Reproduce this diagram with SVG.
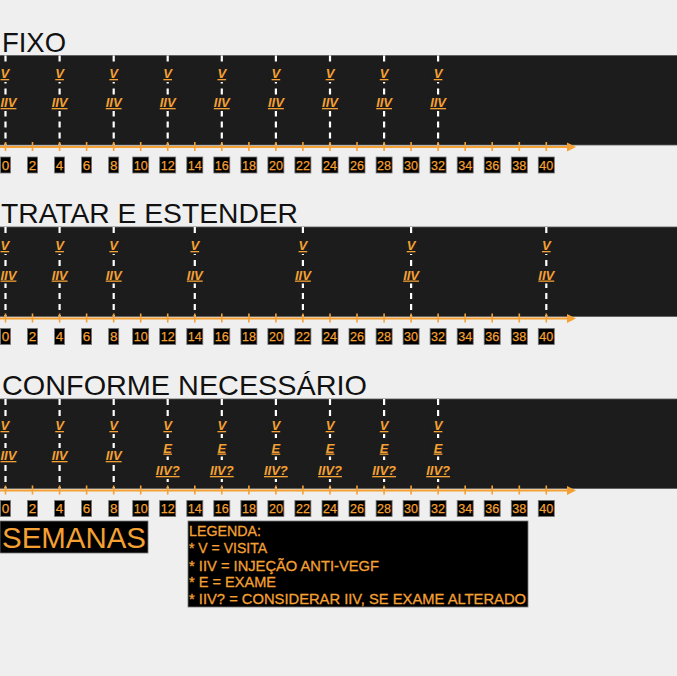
<svg xmlns="http://www.w3.org/2000/svg" width="677" height="676" viewBox="0 0 677 676">
<defs>
<style>
.bg{fill:#efefef}
.band{fill:#1c1c1c;stroke:#5a5a5a;stroke-width:0.8}
.title{font-family:"Liberation Sans",Arial,sans-serif;font-size:28px;fill:#111}
.axis{stroke:#f4a033;stroke-width:2;fill:none}
.tick{stroke:#f4a033;stroke-width:1.6}
.arrow{fill:#f4a033}
.dash{stroke:#ffffff;stroke-width:2.2;stroke-dasharray:6 5;fill:none}
.lblbg{fill:#1c1c1c}
.lbl{font-family:"Liberation Sans",Arial,sans-serif;font-size:13px;font-weight:bold;font-style:italic;fill:#f4a033;text-anchor:middle;text-decoration:underline}
.l0{text-anchor:start}
.nbox{fill:#000;stroke:#777;stroke-width:0.8}
.num{font-family:"Liberation Sans",Arial,sans-serif;font-size:13.5px;fill:#f4a033;stroke:#f4a033;stroke-width:0.25;text-anchor:middle}
.leg{font-family:"Liberation Sans",Arial,sans-serif;font-size:15px;fill:#f4a033;stroke:#f4a033;stroke-width:0.3}
</style>
</defs>
<rect class="bg" x="0" y="0" width="677" height="676"/>

<g id="panel-fixo">
<text class="title" x="2" y="51.5" textLength="64" lengthAdjust="spacingAndGlyphs">FIXO</text>
<rect class="band" x="-1" y="55.5" width="679" height="89.5"/>
</g>
<g id="panel-tratar">
<text class="title" x="1" y="223" textLength="297" lengthAdjust="spacingAndGlyphs">TRATAR E ESTENDER</text>
<rect class="band" x="-1" y="227" width="679" height="89.5"/>
</g>
<g id="panel-conforme">
<text class="title" x="2" y="395" textLength="365" lengthAdjust="spacingAndGlyphs">CONFORME NECESSÁRIO</text>
<rect class="band" x="-1" y="399" width="679" height="89.5"/>
</g>

<g id="connectors">
<line class="axis" x1="0" y1="147" x2="569" y2="147"/>
<polygon class="arrow" points="567,142.5 576,147 567,151.5"/>
<line class="axis" x1="0" y1="318.5" x2="569" y2="318.5"/>
<polygon class="arrow" points="567,314 576,318.5 567,323"/>
<line class="axis" x1="0" y1="490.5" x2="569" y2="490.5"/>
<polygon class="arrow" points="567,486 576,490.5 567,495"/>
<line class="dash" x1="5.5" y1="55.5" x2="5.5" y2="145"/>
<line class="dash" x1="59.6" y1="55.5" x2="59.6" y2="145"/>
<line class="dash" x1="113.7" y1="55.5" x2="113.7" y2="145"/>
<line class="dash" x1="167.7" y1="55.5" x2="167.7" y2="145"/>
<line class="dash" x1="221.8" y1="55.5" x2="221.8" y2="145"/>
<line class="dash" x1="275.9" y1="55.5" x2="275.9" y2="145"/>
<line class="dash" x1="330" y1="55.5" x2="330" y2="145"/>
<line class="dash" x1="384.1" y1="55.5" x2="384.1" y2="145"/>
<line class="dash" x1="438.1" y1="55.5" x2="438.1" y2="145"/>
<line class="dash" x1="5.5" y1="227" x2="5.5" y2="316.5"/>
<line class="dash" x1="59.6" y1="227" x2="59.6" y2="316.5"/>
<line class="dash" x1="113.7" y1="227" x2="113.7" y2="316.5"/>
<line class="dash" x1="194.8" y1="227" x2="194.8" y2="316.5"/>
<line class="dash" x1="302.9" y1="227" x2="302.9" y2="316.5"/>
<line class="dash" x1="411.1" y1="227" x2="411.1" y2="316.5"/>
<line class="dash" x1="546.3" y1="227" x2="546.3" y2="316.5"/>
<line class="dash" x1="5.5" y1="399" x2="5.5" y2="488.5"/>
<line class="dash" x1="59.6" y1="399" x2="59.6" y2="488.5"/>
<line class="dash" x1="113.7" y1="399" x2="113.7" y2="488.5"/>
<line class="dash" x1="167.7" y1="399" x2="167.7" y2="488.5"/>
<line class="dash" x1="221.8" y1="399" x2="221.8" y2="488.5"/>
<line class="dash" x1="275.9" y1="399" x2="275.9" y2="488.5"/>
<line class="dash" x1="330" y1="399" x2="330" y2="488.5"/>
<line class="dash" x1="384.1" y1="399" x2="384.1" y2="488.5"/>
<line class="dash" x1="438.1" y1="399" x2="438.1" y2="488.5"/>
</g>

<g id="ticks" class="tick">
<path d="M5.5 142v9M32.5 142v9M59.6 142v9M86.6 142v9M113.7 142v9M140.7 142v9M167.7 142v9M194.8 142v9M221.8 142v9M248.9 142v9M275.9 142v9M302.9 142v9M330 142v9M357 142v9M384.1 142v9M411.1 142v9M438.1 142v9M465.2 142v9M492.2 142v9M519.3 142v9M546.3 142v9"/>
<path d="M5.5 313.5v9M32.5 313.5v9M59.6 313.5v9M86.6 313.5v9M113.7 313.5v9M140.7 313.5v9M167.7 313.5v9M194.8 313.5v9M221.8 313.5v9M248.9 313.5v9M275.9 313.5v9M302.9 313.5v9M330 313.5v9M357 313.5v9M384.1 313.5v9M411.1 313.5v9M438.1 313.5v9M465.2 313.5v9M492.2 313.5v9M519.3 313.5v9M546.3 313.5v9"/>
<path d="M5.5 485.5v9M32.5 485.5v9M59.6 485.5v9M86.6 485.5v9M113.7 485.5v9M140.7 485.5v9M167.7 485.5v9M194.8 485.5v9M221.8 485.5v9M248.9 485.5v9M275.9 485.5v9M302.9 485.5v9M330 485.5v9M357 485.5v9M384.1 485.5v9M411.1 485.5v9M438.1 485.5v9M465.2 485.5v9M492.2 485.5v9M519.3 485.5v9M546.3 485.5v9"/>
</g>

<g id="p1-visits">
<g id="p1-w0"><rect class="lblbg" x="0" y="66" width="12" height="16"/><rect class="lblbg" x="0" y="95" width="18" height="16"/><text class="lbl l0" x="0.5" y="78">V</text><text class="lbl l0" x="0.5" y="107">IIV</text></g>
<g id="p1-w4"><rect class="lblbg" x="53.1" y="66" width="13" height="16"/><rect class="lblbg" x="48.6" y="95" width="22" height="16"/><text class="lbl" x="59.6" y="78">V</text><text class="lbl" x="59.6" y="107">IIV</text></g>
<g id="p1-w8"><rect class="lblbg" x="107.2" y="66" width="13" height="16"/><rect class="lblbg" x="102.7" y="95" width="22" height="16"/><text class="lbl" x="113.7" y="78">V</text><text class="lbl" x="113.7" y="107">IIV</text></g>
<g id="p1-w12"><rect class="lblbg" x="161.2" y="66" width="13" height="16"/><rect class="lblbg" x="156.7" y="95" width="22" height="16"/><text class="lbl" x="167.7" y="78">V</text><text class="lbl" x="167.7" y="107">IIV</text></g>
<g id="p1-w16"><rect class="lblbg" x="215.3" y="66" width="13" height="16"/><rect class="lblbg" x="210.8" y="95" width="22" height="16"/><text class="lbl" x="221.8" y="78">V</text><text class="lbl" x="221.8" y="107">IIV</text></g>
<g id="p1-w20"><rect class="lblbg" x="269.4" y="66" width="13" height="16"/><rect class="lblbg" x="264.9" y="95" width="22" height="16"/><text class="lbl" x="275.9" y="78">V</text><text class="lbl" x="275.9" y="107">IIV</text></g>
<g id="p1-w24"><rect class="lblbg" x="323.5" y="66" width="13" height="16"/><rect class="lblbg" x="319" y="95" width="22" height="16"/><text class="lbl" x="330" y="78">V</text><text class="lbl" x="330" y="107">IIV</text></g>
<g id="p1-w28"><rect class="lblbg" x="377.6" y="66" width="13" height="16"/><rect class="lblbg" x="373.1" y="95" width="22" height="16"/><text class="lbl" x="384.1" y="78">V</text><text class="lbl" x="384.1" y="107">IIV</text></g>
<g id="p1-w32"><rect class="lblbg" x="431.6" y="66" width="13" height="16"/><rect class="lblbg" x="427.1" y="95" width="22" height="16"/><text class="lbl" x="438.1" y="78">V</text><text class="lbl" x="438.1" y="107">IIV</text></g>
</g>

<g id="p2-visits">
<g id="p2-w0"><rect class="lblbg" x="0" y="238" width="12" height="16"/><rect class="lblbg" x="0" y="267.5" width="18" height="16"/><text class="lbl l0" x="0.5" y="250">V</text><text class="lbl l0" x="0.5" y="279.5">IIV</text></g>
<g id="p2-w4"><rect class="lblbg" x="53.1" y="238" width="13" height="16"/><rect class="lblbg" x="48.6" y="267.5" width="22" height="16"/><text class="lbl" x="59.6" y="250">V</text><text class="lbl" x="59.6" y="279.5">IIV</text></g>
<g id="p2-w8"><rect class="lblbg" x="107.2" y="238" width="13" height="16"/><rect class="lblbg" x="102.7" y="267.5" width="22" height="16"/><text class="lbl" x="113.7" y="250">V</text><text class="lbl" x="113.7" y="279.5">IIV</text></g>
<g id="p2-w14"><rect class="lblbg" x="188.3" y="238" width="13" height="16"/><rect class="lblbg" x="183.8" y="267.5" width="22" height="16"/><text class="lbl" x="194.8" y="250">V</text><text class="lbl" x="194.8" y="279.5">IIV</text></g>
<g id="p2-w22"><rect class="lblbg" x="296.4" y="238" width="13" height="16"/><rect class="lblbg" x="291.9" y="267.5" width="22" height="16"/><text class="lbl" x="302.9" y="250">V</text><text class="lbl" x="302.9" y="279.5">IIV</text></g>
<g id="p2-w30"><rect class="lblbg" x="404.6" y="238" width="13" height="16"/><rect class="lblbg" x="400.1" y="267.5" width="22" height="16"/><text class="lbl" x="411.1" y="250">V</text><text class="lbl" x="411.1" y="279.5">IIV</text></g>
<g id="p2-w40"><rect class="lblbg" x="539.8" y="238" width="13" height="16"/><rect class="lblbg" x="535.3" y="267.5" width="22" height="16"/><text class="lbl" x="546.3" y="250">V</text><text class="lbl" x="546.3" y="279.5">IIV</text></g>
</g>

<g id="p3-visits">
<g id="p3-w0"><rect class="lblbg" x="0" y="418" width="12" height="16"/><rect class="lblbg" x="0" y="448" width="18" height="16"/><text class="lbl l0" x="0.5" y="430">V</text><text class="lbl l0" x="0.5" y="460">IIV</text></g>
<g id="p3-w4"><rect class="lblbg" x="53.1" y="418" width="13" height="16"/><rect class="lblbg" x="48.6" y="448" width="22" height="16"/><text class="lbl" x="59.6" y="430">V</text><text class="lbl" x="59.6" y="460">IIV</text></g>
<g id="p3-w8"><rect class="lblbg" x="107.2" y="418" width="13" height="16"/><rect class="lblbg" x="102.7" y="448" width="22" height="16"/><text class="lbl" x="113.7" y="430">V</text><text class="lbl" x="113.7" y="460">IIV</text></g>
<g id="p3-w12"><rect class="lblbg" x="161.2" y="418" width="13" height="16"/><rect class="lblbg" x="161.2" y="440.5" width="13" height="16"/><rect class="lblbg" x="152.7" y="463" width="30" height="16"/><text class="lbl" x="167.7" y="430">V</text><text class="lbl" x="167.7" y="452.5">E</text><text class="lbl" x="167.7" y="475">IIV?</text></g>
<g id="p3-w16"><rect class="lblbg" x="215.3" y="418" width="13" height="16"/><rect class="lblbg" x="215.3" y="440.5" width="13" height="16"/><rect class="lblbg" x="206.8" y="463" width="30" height="16"/><text class="lbl" x="221.8" y="430">V</text><text class="lbl" x="221.8" y="452.5">E</text><text class="lbl" x="221.8" y="475">IIV?</text></g>
<g id="p3-w20"><rect class="lblbg" x="269.4" y="418" width="13" height="16"/><rect class="lblbg" x="269.4" y="440.5" width="13" height="16"/><rect class="lblbg" x="260.9" y="463" width="30" height="16"/><text class="lbl" x="275.9" y="430">V</text><text class="lbl" x="275.9" y="452.5">E</text><text class="lbl" x="275.9" y="475">IIV?</text></g>
<g id="p3-w24"><rect class="lblbg" x="323.5" y="418" width="13" height="16"/><rect class="lblbg" x="323.5" y="440.5" width="13" height="16"/><rect class="lblbg" x="315" y="463" width="30" height="16"/><text class="lbl" x="330" y="430">V</text><text class="lbl" x="330" y="452.5">E</text><text class="lbl" x="330" y="475">IIV?</text></g>
<g id="p3-w28"><rect class="lblbg" x="377.6" y="418" width="13" height="16"/><rect class="lblbg" x="377.6" y="440.5" width="13" height="16"/><rect class="lblbg" x="369.1" y="463" width="30" height="16"/><text class="lbl" x="384.1" y="430">V</text><text class="lbl" x="384.1" y="452.5">E</text><text class="lbl" x="384.1" y="475">IIV?</text></g>
<g id="p3-w32"><rect class="lblbg" x="431.6" y="418" width="13" height="16"/><rect class="lblbg" x="431.6" y="440.5" width="13" height="16"/><rect class="lblbg" x="423.1" y="463" width="30" height="16"/><text class="lbl" x="438.1" y="430">V</text><text class="lbl" x="438.1" y="452.5">E</text><text class="lbl" x="438.1" y="475">IIV?</text></g>
</g>

<g id="p1-weeks">
<rect class="nbox" x="0.5" y="157" width="10" height="16"/><text class="num" x="5.5" y="169.5">0</text>
<rect class="nbox" x="27.5" y="157" width="10" height="16"/><text class="num" x="32.5" y="169.5">2</text>
<rect class="nbox" x="54.6" y="157" width="10" height="16"/><text class="num" x="59.6" y="169.5">4</text>
<rect class="nbox" x="81.6" y="157" width="10" height="16"/><text class="num" x="86.6" y="169.5">6</text>
<rect class="nbox" x="108.7" y="157" width="10" height="16"/><text class="num" x="113.7" y="169.5">8</text>
<rect class="nbox" x="132.7" y="157" width="16" height="16"/><text class="num" x="140.7" y="169.5" textLength="14" lengthAdjust="spacingAndGlyphs">10</text>
<rect class="nbox" x="159.7" y="157" width="16" height="16"/><text class="num" x="167.7" y="169.5" textLength="14" lengthAdjust="spacingAndGlyphs">12</text>
<rect class="nbox" x="186.8" y="157" width="16" height="16"/><text class="num" x="194.8" y="169.5" textLength="14" lengthAdjust="spacingAndGlyphs">14</text>
<rect class="nbox" x="213.8" y="157" width="16" height="16"/><text class="num" x="221.8" y="169.5" textLength="14" lengthAdjust="spacingAndGlyphs">16</text>
<rect class="nbox" x="240.9" y="157" width="16" height="16"/><text class="num" x="248.9" y="169.5" textLength="14" lengthAdjust="spacingAndGlyphs">18</text>
<rect class="nbox" x="267.9" y="157" width="16" height="16"/><text class="num" x="275.9" y="169.5" textLength="14" lengthAdjust="spacingAndGlyphs">20</text>
<rect class="nbox" x="294.9" y="157" width="16" height="16"/><text class="num" x="302.9" y="169.5" textLength="14" lengthAdjust="spacingAndGlyphs">22</text>
<rect class="nbox" x="322" y="157" width="16" height="16"/><text class="num" x="330" y="169.5" textLength="14" lengthAdjust="spacingAndGlyphs">24</text>
<rect class="nbox" x="349" y="157" width="16" height="16"/><text class="num" x="357" y="169.5" textLength="14" lengthAdjust="spacingAndGlyphs">26</text>
<rect class="nbox" x="376.1" y="157" width="16" height="16"/><text class="num" x="384.1" y="169.5" textLength="14" lengthAdjust="spacingAndGlyphs">28</text>
<rect class="nbox" x="403.1" y="157" width="16" height="16"/><text class="num" x="411.1" y="169.5" textLength="14" lengthAdjust="spacingAndGlyphs">30</text>
<rect class="nbox" x="430.1" y="157" width="16" height="16"/><text class="num" x="438.1" y="169.5" textLength="14" lengthAdjust="spacingAndGlyphs">32</text>
<rect class="nbox" x="457.2" y="157" width="16" height="16"/><text class="num" x="465.2" y="169.5" textLength="14" lengthAdjust="spacingAndGlyphs">34</text>
<rect class="nbox" x="484.2" y="157" width="16" height="16"/><text class="num" x="492.2" y="169.5" textLength="14" lengthAdjust="spacingAndGlyphs">36</text>
<rect class="nbox" x="511.3" y="157" width="16" height="16"/><text class="num" x="519.3" y="169.5" textLength="14" lengthAdjust="spacingAndGlyphs">38</text>
<rect class="nbox" x="538.3" y="157" width="16" height="16"/><text class="num" x="546.3" y="169.5" textLength="14" lengthAdjust="spacingAndGlyphs">40</text>
</g>
<g id="p2-weeks">
<rect class="nbox" x="0.5" y="328.5" width="10" height="16"/><text class="num" x="5.5" y="341">0</text>
<rect class="nbox" x="27.5" y="328.5" width="10" height="16"/><text class="num" x="32.5" y="341">2</text>
<rect class="nbox" x="54.6" y="328.5" width="10" height="16"/><text class="num" x="59.6" y="341">4</text>
<rect class="nbox" x="81.6" y="328.5" width="10" height="16"/><text class="num" x="86.6" y="341">6</text>
<rect class="nbox" x="108.7" y="328.5" width="10" height="16"/><text class="num" x="113.7" y="341">8</text>
<rect class="nbox" x="132.7" y="328.5" width="16" height="16"/><text class="num" x="140.7" y="341" textLength="14" lengthAdjust="spacingAndGlyphs">10</text>
<rect class="nbox" x="159.7" y="328.5" width="16" height="16"/><text class="num" x="167.7" y="341" textLength="14" lengthAdjust="spacingAndGlyphs">12</text>
<rect class="nbox" x="186.8" y="328.5" width="16" height="16"/><text class="num" x="194.8" y="341" textLength="14" lengthAdjust="spacingAndGlyphs">14</text>
<rect class="nbox" x="213.8" y="328.5" width="16" height="16"/><text class="num" x="221.8" y="341" textLength="14" lengthAdjust="spacingAndGlyphs">16</text>
<rect class="nbox" x="240.9" y="328.5" width="16" height="16"/><text class="num" x="248.9" y="341" textLength="14" lengthAdjust="spacingAndGlyphs">18</text>
<rect class="nbox" x="267.9" y="328.5" width="16" height="16"/><text class="num" x="275.9" y="341" textLength="14" lengthAdjust="spacingAndGlyphs">20</text>
<rect class="nbox" x="294.9" y="328.5" width="16" height="16"/><text class="num" x="302.9" y="341" textLength="14" lengthAdjust="spacingAndGlyphs">22</text>
<rect class="nbox" x="322" y="328.5" width="16" height="16"/><text class="num" x="330" y="341" textLength="14" lengthAdjust="spacingAndGlyphs">24</text>
<rect class="nbox" x="349" y="328.5" width="16" height="16"/><text class="num" x="357" y="341" textLength="14" lengthAdjust="spacingAndGlyphs">26</text>
<rect class="nbox" x="376.1" y="328.5" width="16" height="16"/><text class="num" x="384.1" y="341" textLength="14" lengthAdjust="spacingAndGlyphs">28</text>
<rect class="nbox" x="403.1" y="328.5" width="16" height="16"/><text class="num" x="411.1" y="341" textLength="14" lengthAdjust="spacingAndGlyphs">30</text>
<rect class="nbox" x="430.1" y="328.5" width="16" height="16"/><text class="num" x="438.1" y="341" textLength="14" lengthAdjust="spacingAndGlyphs">32</text>
<rect class="nbox" x="457.2" y="328.5" width="16" height="16"/><text class="num" x="465.2" y="341" textLength="14" lengthAdjust="spacingAndGlyphs">34</text>
<rect class="nbox" x="484.2" y="328.5" width="16" height="16"/><text class="num" x="492.2" y="341" textLength="14" lengthAdjust="spacingAndGlyphs">36</text>
<rect class="nbox" x="511.3" y="328.5" width="16" height="16"/><text class="num" x="519.3" y="341" textLength="14" lengthAdjust="spacingAndGlyphs">38</text>
<rect class="nbox" x="538.3" y="328.5" width="16" height="16"/><text class="num" x="546.3" y="341" textLength="14" lengthAdjust="spacingAndGlyphs">40</text>
</g>
<g id="p3-weeks">
<rect class="nbox" x="0.5" y="500.5" width="10" height="16"/><text class="num" x="5.5" y="513">0</text>
<rect class="nbox" x="27.5" y="500.5" width="10" height="16"/><text class="num" x="32.5" y="513">2</text>
<rect class="nbox" x="54.6" y="500.5" width="10" height="16"/><text class="num" x="59.6" y="513">4</text>
<rect class="nbox" x="81.6" y="500.5" width="10" height="16"/><text class="num" x="86.6" y="513">6</text>
<rect class="nbox" x="108.7" y="500.5" width="10" height="16"/><text class="num" x="113.7" y="513">8</text>
<rect class="nbox" x="132.7" y="500.5" width="16" height="16"/><text class="num" x="140.7" y="513" textLength="14" lengthAdjust="spacingAndGlyphs">10</text>
<rect class="nbox" x="159.7" y="500.5" width="16" height="16"/><text class="num" x="167.7" y="513" textLength="14" lengthAdjust="spacingAndGlyphs">12</text>
<rect class="nbox" x="186.8" y="500.5" width="16" height="16"/><text class="num" x="194.8" y="513" textLength="14" lengthAdjust="spacingAndGlyphs">14</text>
<rect class="nbox" x="213.8" y="500.5" width="16" height="16"/><text class="num" x="221.8" y="513" textLength="14" lengthAdjust="spacingAndGlyphs">16</text>
<rect class="nbox" x="240.9" y="500.5" width="16" height="16"/><text class="num" x="248.9" y="513" textLength="14" lengthAdjust="spacingAndGlyphs">18</text>
<rect class="nbox" x="267.9" y="500.5" width="16" height="16"/><text class="num" x="275.9" y="513" textLength="14" lengthAdjust="spacingAndGlyphs">20</text>
<rect class="nbox" x="294.9" y="500.5" width="16" height="16"/><text class="num" x="302.9" y="513" textLength="14" lengthAdjust="spacingAndGlyphs">22</text>
<rect class="nbox" x="322" y="500.5" width="16" height="16"/><text class="num" x="330" y="513" textLength="14" lengthAdjust="spacingAndGlyphs">24</text>
<rect class="nbox" x="349" y="500.5" width="16" height="16"/><text class="num" x="357" y="513" textLength="14" lengthAdjust="spacingAndGlyphs">26</text>
<rect class="nbox" x="376.1" y="500.5" width="16" height="16"/><text class="num" x="384.1" y="513" textLength="14" lengthAdjust="spacingAndGlyphs">28</text>
<rect class="nbox" x="403.1" y="500.5" width="16" height="16"/><text class="num" x="411.1" y="513" textLength="14" lengthAdjust="spacingAndGlyphs">30</text>
<rect class="nbox" x="430.1" y="500.5" width="16" height="16"/><text class="num" x="438.1" y="513" textLength="14" lengthAdjust="spacingAndGlyphs">32</text>
<rect class="nbox" x="457.2" y="500.5" width="16" height="16"/><text class="num" x="465.2" y="513" textLength="14" lengthAdjust="spacingAndGlyphs">34</text>
<rect class="nbox" x="484.2" y="500.5" width="16" height="16"/><text class="num" x="492.2" y="513" textLength="14" lengthAdjust="spacingAndGlyphs">36</text>
<rect class="nbox" x="511.3" y="500.5" width="16" height="16"/><text class="num" x="519.3" y="513" textLength="14" lengthAdjust="spacingAndGlyphs">38</text>
<rect class="nbox" x="538.3" y="500.5" width="16" height="16"/><text class="num" x="546.3" y="513" textLength="14" lengthAdjust="spacingAndGlyphs">40</text>
</g>

<g id="semanas">
<rect class="nbox" x="0" y="521" width="148" height="32"/>
<text x="2" y="548" font-family="Liberation Sans, Arial, sans-serif" font-size="30" fill="#f4a033" textLength="144" lengthAdjust="spacingAndGlyphs">SEMANAS</text>
</g>

<g id="legenda">
<rect class="nbox" x="188" y="521" width="340" height="86"/>
<text class="leg" x="189" y="536" textLength="72" lengthAdjust="spacingAndGlyphs">LEGENDA:</text>
<text class="leg" x="189" y="553" textLength="78" lengthAdjust="spacingAndGlyphs">* V = VISITA</text>
<text class="leg" x="189" y="570.5" textLength="190" lengthAdjust="spacingAndGlyphs">* IIV = INJEÇÃO ANTI-VEGF</text>
<text class="leg" x="189" y="587" textLength="87" lengthAdjust="spacingAndGlyphs">* E = EXAME</text>
<text class="leg" x="189" y="604" textLength="337" lengthAdjust="spacingAndGlyphs">* IIV? = CONSIDERAR IIV, SE EXAME ALTERADO</text>
</g>
</svg>
